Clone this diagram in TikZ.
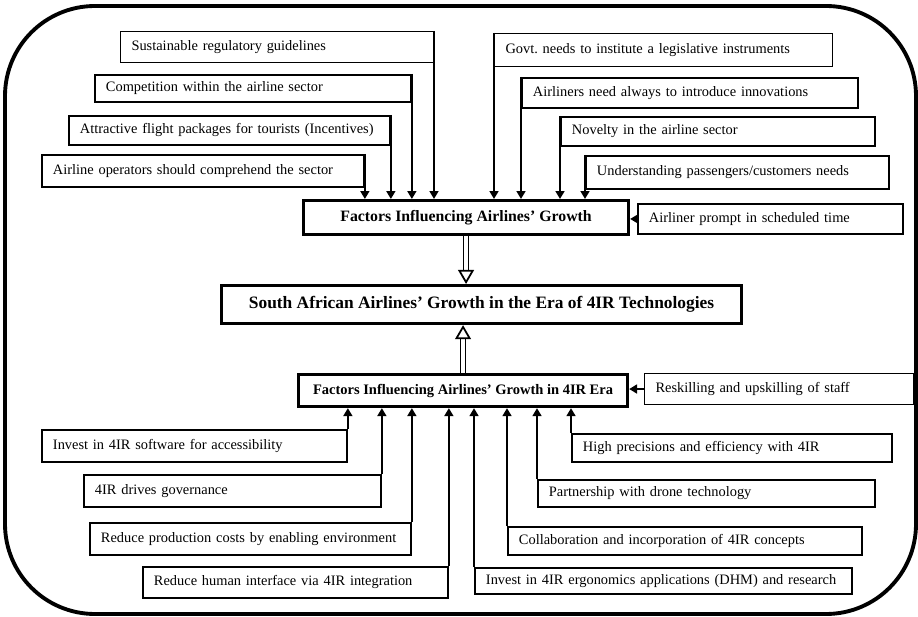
\documentclass[tikz,border=0pt]{standalone}
\usepackage{fontspec}
\setmainfont{Liberation Serif}
\usetikzlibrary{arrows.meta, positioning}

\begin{document}
\begin{tikzpicture}[x=0.02cm, y=-0.02cm,
  factor/.style={draw, line width=1.1pt, anchor=north west, inner xsep=0.22cm, inner ysep=0pt, align=left, font=\fontsize{8.2}{10}\selectfont},
  lightfactor/.style={factor, line width=0.6pt},
  hub/.style={draw, line width=1.8pt, anchor=north west, inner sep=0pt, align=center, font=\bfseries\fontsize{9}{11}\selectfont},
  feed/.style={line width=1.2pt, -{Triangle[length=4.5pt, width=5pt]}},
  flow/.style={double, double distance=1.8pt, line width=1pt, -{Triangle[open, length=8pt, width=9pt]}}]
  \useasboundingbox (0,0) rectangle (918,617);
  \draw[line width=2.2pt, rounded corners=1.8cm] (5,6) rectangle (916,614);

  % central boxes
  \node[hub, minimum width=6.5cm, minimum height=0.68cm] (growth) at (302,199) {Factors Influencing Airlines' Growth};
  \node[hub, minimum width=10.4cm, minimum height=0.76cm, font=\bfseries\fontsize{9.9}{12}\selectfont] (saa) at (220,284) {South African Airlines' Growth in the Era of 4IR Technologies};
  \node[hub, minimum width=6.58cm, minimum height=0.64cm, font=\bfseries\fontsize{8.25}{10}\selectfont] (growth4ir) at (297,373) {Factors Influencing Airlines' Growth in 4IR Era};

  % upper factors
  \node[lightfactor, text width=5.82cm, minimum height=0.62cm] (guide) at (120,31) {Sustainable regulatory guidelines};
  \node[factor, text width=5.88cm, minimum height=0.54cm] (compete) at (94,74) {Competition within the airline sector};
  \node[factor, text width=5.98cm, minimum height=0.58cm] (package) at (68,115) {Attractive flight packages for tourists (Incentives)};
  \node[factor, text width=6.00cm, minimum height=0.64cm] (operator) at (41,154) {Airline operators should comprehend the sector};
  \node[lightfactor, text width=6.32cm, minimum height=0.66cm] (govt) at (494,33) {Govt.\ needs to institute a legislative instruments};
  \node[factor, text width=6.28cm, minimum height=0.60cm] (innov) at (521,77) {Airliners need always to introduce innovations};
  \node[factor, text width=5.84cm, minimum height=0.58cm] (novel) at (560,116) {Novelty in the airline sector};
  \node[factor, text width=5.62cm, minimum height=0.66cm] (custom) at (585,155) {Understanding passengers/customers needs};
  \node[factor, text width=4.86cm, minimum height=0.60cm] (prompt) at (637,203) {Airliner prompt in scheduled time};

  % lower factors
  \node[lightfactor, text width=4.94cm, minimum height=0.62cm] (reskill) at (644,373) {Reskilling and upskilling of staff};
  \node[factor, text width=5.66cm, minimum height=0.64cm] (software) at (41,429) {Invest in 4IR software for accessibility};
  \node[factor, text width=5.50cm, minimum height=0.64cm] (govern) at (83,474) {4IR drives governance};
  \node[factor, text width=5.98cm, minimum height=0.64cm] (cost) at (89,522) {Reduce production costs by enabling environment};
  \node[factor, text width=5.66cm, minimum height=0.62cm] (human) at (142,566) {Reduce human interface via 4IR integration};
  \node[factor, text width=5.96cm, minimum height=0.56cm] (precise) at (571,433) {High precisions and efficiency with 4IR};
  \node[factor, text width=6.30cm, minimum height=0.54cm] (drone) at (537,479) {Partnership with drone technology};
  \node[factor, text width=6.64cm, minimum height=0.56cm] (collab) at (507,526) {Collaboration and incorporation of 4IR concepts};
  \node[factor, text width=7.10cm, minimum height=0.52cm] (ergo) at (474,567) {Invest in 4IR ergonomics applications (DHM) and research};

  % arrows into the upper hub
  \draw[feed] (guide.north east) -- (guide.north east |- growth.north);
  \draw[feed] (compete.north east) -- (compete.north east |- growth.north);
  \draw[feed] (package.north east) -- (package.north east |- growth.north);
  \draw[feed] (operator.north east) -- (operator.north east |- growth.north);
  \draw[feed] (govt.north west) -- (govt.north west |- growth.north);
  \draw[feed] (innov.north west) -- (innov.north west |- growth.north);
  \draw[feed] (novel.north west) -- (novel.north west |- growth.north);
  \draw[feed] (custom.north west) -- (custom.north west |- growth.north);
  \draw[feed] (prompt.west) -- (growth.east |- prompt.west);

  % arrows into the lower hub
  \draw[feed] (reskill.west) -- (growth4ir.east |- reskill.west);
  \draw[feed] (software.north east) -- (software.north east |- growth4ir.south);
  \draw[feed] (govern.north east) -- (govern.north east |- growth4ir.south);
  \draw[feed] (cost.north east) -- (cost.north east |- growth4ir.south);
  \draw[feed] (human.north east) -- (human.north east |- growth4ir.south);
  \draw[feed] (precise.north west) -- (precise.north west |- growth4ir.south);
  \draw[feed] (drone.north west) -- (drone.north west |- growth4ir.south);
  \draw[feed] (collab.north west) -- (collab.north west |- growth4ir.south);
  \draw[feed] (ergo.north west) -- (ergo.north west |- growth4ir.south);

  % hubs into the centre
  \draw[flow] (growth.south) -- (growth.south |- saa.north);
  \draw[flow] (growth4ir.north) -- (growth4ir.north |- saa.south);
\end{tikzpicture}
\end{document}
